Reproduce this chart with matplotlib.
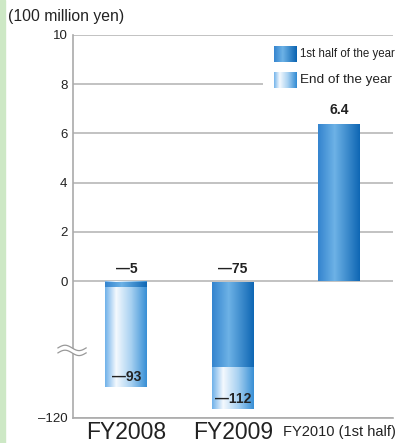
import numpy as np
import matplotlib
matplotlib.use('Agg')
import matplotlib.pyplot as plt
from matplotlib.colors import LinearSegmentedColormap
from matplotlib.patches import Rectangle

years = ['FY2008', 'FY2009', 'FY2010 (1st half)']
first_half = [-5, -75, 6.4]
year_end = [-93, -112, None]
first_labels = ['\u20145', '\u201475', '6.4']
end_labels = ['\u201493', '\u2014112', '']
yticks = [-120, 0, 2, 4, 6, 8, 10]
ytick_labels = ['\u2013120', '0', '2', '4', '6', '8', '10']

K = 0.0464  # the part below zero is squeezed (broken axis)

def fwd(v):
    v = np.asarray(v, dtype=float)
    return np.where(v >= 0, v, v * K)

def inv(v):
    v = np.asarray(v, dtype=float)
    return np.where(v >= 0, v, v / K)

dark_cmap = LinearSegmentedColormap.from_list(
    'dark', [(0, '#3585cf'), (0.38, '#6db2e6'), (1, '#0a63b1')])
light_cmap = LinearSegmentedColormap.from_list(
    'light', [(0, '#74b4ea'), (0.25, '#f4f9fe'), (0.6, '#a8d1f1'), (1, '#2f8ad3')])
grad = np.linspace(0, 1, 256).reshape(1, -1)

FONT = ['Liberation Sans', 'DejaVu Sans']
TXT = '#222222'

fig = plt.figure(figsize=(3.96, 4.43), dpi=100)
fig.patches.append(Rectangle((0, 0), 5 / 396, 1, transform=fig.transFigure,
                             color='#cde8c5', zorder=0))
ax = fig.add_axes([73 / 396, 1 - 418 / 443, 320 / 396, 383 / 443])
ax.set_yscale('function', functions=(fwd, inv))

w = 0.40
x = np.arange(len(years))

def grad_bar(xc, top, cmap, z):
    ax.imshow(grad, cmap=cmap, aspect='auto', interpolation='bilinear',
              extent=(xc - w / 2, xc + w / 2, 0, top), zorder=z)

for i in range(len(years)):
    if year_end[i] is not None:
        grad_bar(x[i], year_end[i], light_cmap, 2)
    grad_bar(x[i], first_half[i], dark_cmap, 3)

# value labels
for i in range(len(years)):
    ax.annotate(first_labels[i], xy=(x[i], max(first_half[i], 0)),
                xytext=(0, 3.5 if first_half[i] < 0 else 5), textcoords='offset points',
                ha='center', va='bottom', fontsize=10, fontweight='bold',
                family=FONT, color=TXT, zorder=5)
    if year_end[i] is not None:
        ax.annotate(end_labels[i], xy=(x[i], year_end[i]), xytext=(0, 2),
                    textcoords='offset points', ha='center', va='bottom',
                    fontsize=10, fontweight='bold', family=FONT,
                    color=TXT, zorder=5)

ax.set_xlim(-0.5, 2.5)
ax.set_ylim(-120, 10)
ax.set_yticks(yticks)
ax.set_yticklabels(ytick_labels, family=FONT, fontsize=9.5, color=TXT)
ax.set_xticks(x)
ax.set_xticklabels(years)
for lab, fs in zip(ax.get_xticklabels(), [16.5, 16.5, 10.5]):
    lab.set_family(FONT)
    lab.set_fontsize(fs)
    lab.set_color(TXT)
ax.tick_params(length=0)
ax.tick_params(axis='y', pad=4)
ax.tick_params(axis='x', pad=2)
# small label sits lower in its line, match baseline of the big ones
ax.get_xticklabels()[2].set_y(-0.012)
ax.grid(axis='y', color='#b8b8b8', lw=1.2, zorder=0)
ax.set_axisbelow(True)
for s in ['top', 'right']:
    ax.spines[s].set_visible(False)
for s in ['left', 'bottom']:
    ax.spines[s].set_color('#aaaaaa')
    ax.spines[s].set_linewidth(1.2)

# legend
ax.add_patch(Rectangle((0.594, 0.84), 0.41, 0.15, transform=ax.transAxes,
                       facecolor='white', edgecolor='none', zorder=4))
ax.imshow(grad, cmap=dark_cmap, aspect='auto', transform=ax.transAxes,
          extent=(0.628, 0.697, 0.9295, 0.971), zorder=5)
ax.imshow(grad, cmap=light_cmap, aspect='auto', transform=ax.transAxes,
          extent=(0.628, 0.697, 0.8616, 0.903), zorder=5)
ax.text(0.709, 0.950, '1st half of the year', transform=ax.transAxes,
        family=FONT, fontsize=8.3, va='center', ha='left', color=TXT, zorder=6)
ax.text(0.709, 0.8825, 'End of the year', transform=ax.transAxes,
        family=FONT, fontsize=9.7, va='center', ha='left', color=TXT, zorder=6)

# axis break mark
t = np.linspace(0, 1, 60)
bx = -0.047 + 0.088 * t
by = 0.183 + 0.007 * np.sin(2 * np.pi * t)
ax.fill_between(bx, by - 0.013, by, transform=ax.transAxes, color='white',
                clip_on=False, zorder=6, lw=0)
ax.plot(bx, by, transform=ax.transAxes, color='#999999', lw=0.9, clip_on=False, zorder=7)
ax.plot(bx, by - 0.013, transform=ax.transAxes, color='#999999', lw=0.9, clip_on=False, zorder=7)

fig.text(8 / 396, 1 - 17 / 443, '(100 million yen)', family=FONT, fontsize=11.3,
         va='center', ha='left', color=TXT)

ax.set_xlim(-0.5, 2.5)
ax.set_ylim(-120, 10)
fig.savefig('out.png', dpi=100)
